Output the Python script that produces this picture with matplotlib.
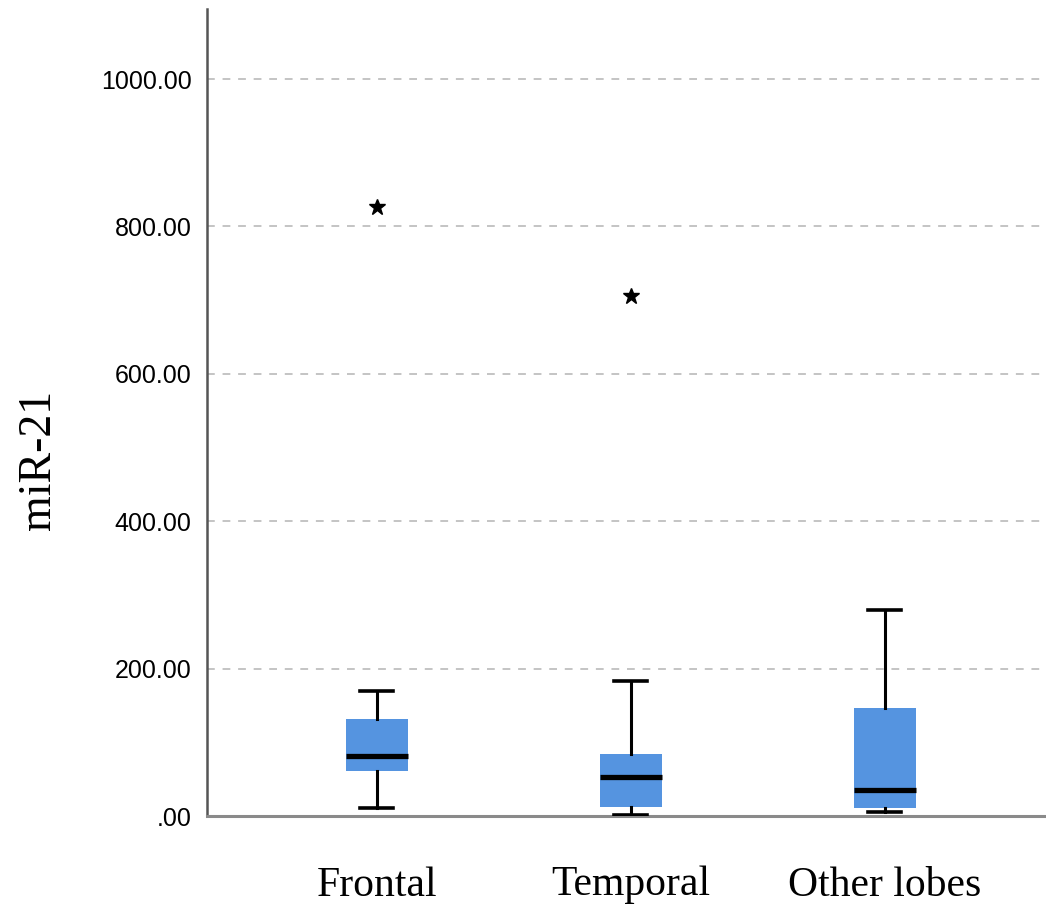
import matplotlib.pyplot as plt

# Data (five-number summaries + extreme values)
categories = ['Frontal', 'Temporal', 'Other lobes']
whisker_low = [11, 2, 6]
q1 = [61, 12, 11]
median = [81, 53.5, 35]
q3 = [131, 84, 147]
whisker_high = [169, 183, 279]
extremes = [[826], [705], []]

yticks = [0, 200, 400, 600, 800, 1000]
ytick_labels = ['.00', '200.00', '400.00', '600.00', '800.00', '1000.00']

stats = []
for i, name in enumerate(categories):
    stats.append({
        'label': name,
        'whislo': whisker_low[i],
        'q1': q1[i],
        'med': median[i],
        'q3': q3[i],
        'whishi': whisker_high[i],
        'fliers': extremes[i],
    })

fig = plt.figure(figsize=(10.46, 9.14), dpi=100)
ax = fig.add_axes([207 / 1046, 1 - 816 / 914, 1 - 207 / 1046, (816 - 9) / 914])

box_color = '#5594e0'
ax.bxp(stats, positions=[1, 2, 3], widths=0.244, capwidths=0.13,
       patch_artist=True,
       boxprops=dict(facecolor=box_color, edgecolor=box_color, linewidth=0),
       medianprops=dict(color='black', linewidth=3.8, solid_capstyle='butt'),
       whiskerprops=dict(color='black', linewidth=2.2),
       capprops=dict(color='black', linewidth=2.6),
       flierprops=dict(marker='*', markerfacecolor='black',
                       markeredgecolor='black', markersize=12),
       zorder=3)

ax.set_xlim(0.331, 3.634)
ax.set_ylim(0, 1095)

# dashed grid lines
ax.set_yticks(yticks)
ax.set_yticklabels(ytick_labels, family='Liberation Sans', fontsize=18)
ax.yaxis.grid(True, linestyle=(0, (4, 4)), color='#c4c4c4', linewidth=1.4)
ax.set_axisbelow(True)
ax.tick_params(axis='y', length=0, pad=11)
ax.tick_params(axis='x', length=0, pad=36)
ax.set_xticks([1, 2, 3])
ax.set_xticklabels(categories, family='Liberation Serif', fontsize=30)

ax.set_ylabel('miR-21', family='Liberation Serif', fontsize=33, va='center')
ax.yaxis.set_label_coords(-0.200, 0.441)

for side in ['top', 'right']:
    ax.spines[side].set_visible(False)
ax.spines['left'].set_color('#555555')
ax.spines['left'].set_linewidth(1.8)
ax.spines['bottom'].set_color('#8a8a8a')
ax.spines['bottom'].set_linewidth(2.2)

fig.savefig('out.png', dpi=100)
